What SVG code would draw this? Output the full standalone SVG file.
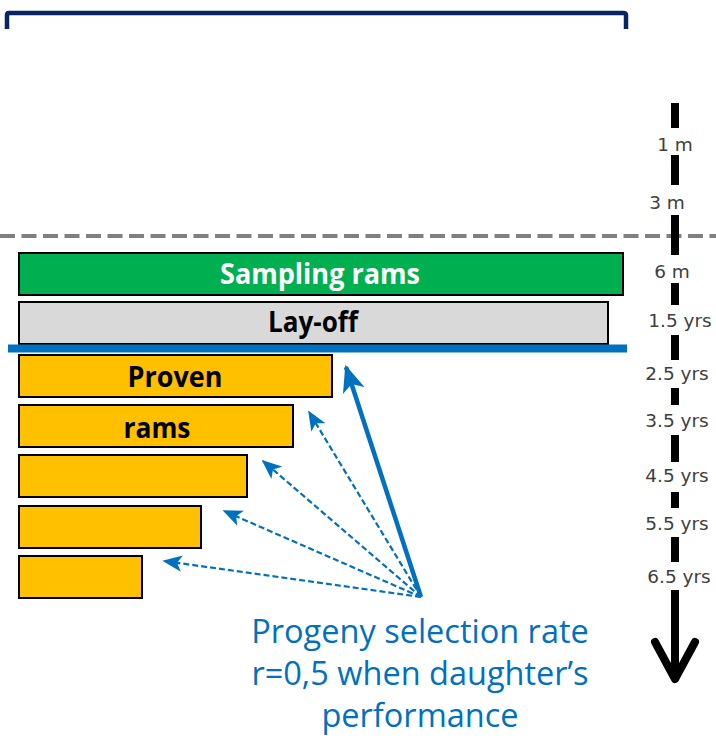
<svg xmlns="http://www.w3.org/2000/svg" width="716" height="743" viewBox="0 0 716 743">
  <defs>
    <style>
      .box { stroke: #000; stroke-width: 2; }
      .green { fill: #00B050; }
      .grey { fill: #D9D9D9; }
      .yellow { fill: #FFC000; }
      .btxt { font-family: "Liberation Sans Narrow", "Open Sans", "Liberation Sans", sans-serif; font-weight: bold; text-anchor: middle; }
      .tl { font-family: "DejaVu Sans", "Open Sans", sans-serif; font-size: 18.5px; fill: #404040; text-anchor: middle; }
      .note { font-family: "Open Sans", "Liberation Sans", sans-serif; font-size: 32.5px; fill: #0070C0; text-anchor: middle; }
      .blue-solid { stroke: #0070C0; stroke-width: 4.5; fill: none; }
      .blue-dash { stroke: #0070C0; stroke-width: 2.2; stroke-dasharray: 6 3; fill: none; }
    </style>
    <marker id="head" viewBox="0 0 12 10" refX="11" refY="5" markerWidth="6" markerHeight="5" markerUnits="strokeWidth" orient="auto">
      <path d="M0,0 L12,5 L0,10 L3,5 z" fill="#0070C0"/>
    </marker>
    <marker id="headsmall" viewBox="0 0 12 10" refX="11" refY="5" markerWidth="9" markerHeight="8" markerUnits="strokeWidth" orient="auto">
      <path d="M0,0 L12,5 L0,10 L3,5 z" fill="#0070C0"/>
    </marker>
  </defs>

  <rect width="716" height="743" fill="#fff"/>

  <!-- top bracket -->
  <path d="M7,29 V15 Q7,13 9,13 H623 Q626,13 626,15 V29" fill="none" stroke="#0A2463" stroke-width="4.5"/>

  <!-- dashed cut line -->
  <line x1="0" y1="236" x2="716" y2="236" stroke="#808080" stroke-width="4" stroke-dasharray="15 6.5"/>

  <!-- time axis -->
  <g id="timeline">
    <g stroke="#000" stroke-width="8" fill="none">
      <line x1="675" y1="103" x2="675" y2="128"/>
      <line x1="675" y1="155" x2="675" y2="185"/>
      <line x1="675" y1="215" x2="675" y2="255"/>
      <line x1="675" y1="283" x2="675" y2="305"/>
      <line x1="675" y1="335" x2="675" y2="360"/>
      <line x1="675" y1="388" x2="675" y2="405"/>
      <line x1="675" y1="435" x2="675" y2="462"/>
      <line x1="675" y1="492" x2="675" y2="508"/>
      <line x1="675" y1="537" x2="675" y2="562"/>
      <line x1="675" y1="590" x2="675" y2="678"/>
      <path d="M655,642 L675,679 L695,642" stroke-linecap="round" stroke-linejoin="round"/>
    </g>
    <text class="tl" x="675" y="151">1 m</text>
    <text class="tl" x="667" y="209">3 m</text>
    <text class="tl" x="672" y="278">6 m</text>
    <text class="tl" x="680" y="327">1.5 yrs</text>
    <text class="tl" x="677" y="380">2.5 yrs</text>
    <text class="tl" x="677" y="427">3.5 yrs</text>
    <text class="tl" x="677" y="482">4.5 yrs</text>
    <text class="tl" x="677" y="530">5.5 yrs</text>
    <text class="tl" x="679" y="583">6.5 yrs</text>
  </g>

  <g id="sampling">
    <rect class="box green" x="19" y="253" width="604" height="42"/>
    <text class="btxt" x="320" y="284" font-size="28" fill="#fff" textLength="200" lengthAdjust="spacingAndGlyphs">Sampling rams</text>
  </g>

  <g id="layoff">
    <rect class="box grey" x="19" y="302" width="589" height="42"/>
    <text class="btxt" x="313" y="332" font-size="28" fill="#000" textLength="90" lengthAdjust="spacingAndGlyphs">Lay-off</text>
  </g>

  <!-- selection boundary -->
  <line x1="8" y1="348.5" x2="627" y2="348.5" stroke="#0070C0" stroke-width="8"/>

  <g id="proven1">
    <rect class="box yellow" x="19" y="355" width="313" height="42"/>
    <text class="btxt" x="175" y="387" font-size="28" fill="#000" textLength="95" lengthAdjust="spacingAndGlyphs">Proven</text>
  </g>
  <g id="proven2">
    <rect class="box yellow" x="19" y="405" width="274" height="42"/>
    <text class="btxt" x="157" y="438" font-size="28" fill="#000" textLength="67" lengthAdjust="spacingAndGlyphs">rams</text>
  </g>
  <g id="proven3">
    <rect class="box yellow" x="19" y="455" width="228" height="42"/>
  </g>
  <g id="proven4">
    <rect class="box yellow" x="19" y="506" width="182" height="42"/>
  </g>
  <g id="proven5">
    <rect class="box yellow" x="19" y="556" width="123" height="42"/>
  </g>

  <g id="connectors">
    <line class="blue-solid" x1="421" y1="597" x2="346" y2="367" marker-end="url(#head)"/>
    <line class="blue-dash" x1="421" y1="597" x2="309" y2="412" marker-end="url(#headsmall)"/>
    <line class="blue-dash" x1="421" y1="597" x2="263" y2="461" marker-end="url(#headsmall)"/>
    <line class="blue-dash" x1="421" y1="597" x2="224" y2="511" marker-end="url(#headsmall)"/>
    <line class="blue-dash" x1="421" y1="597" x2="164" y2="561" marker-end="url(#headsmall)"/>
  </g>

  <g id="note">
    <text class="note" x="420" y="643">Progeny selection rate</text>
    <text class="note" x="420" y="685">r=0,5 when daughter’s</text>
    <text class="note" x="420" y="727">performance</text>
  </g>
</svg>
